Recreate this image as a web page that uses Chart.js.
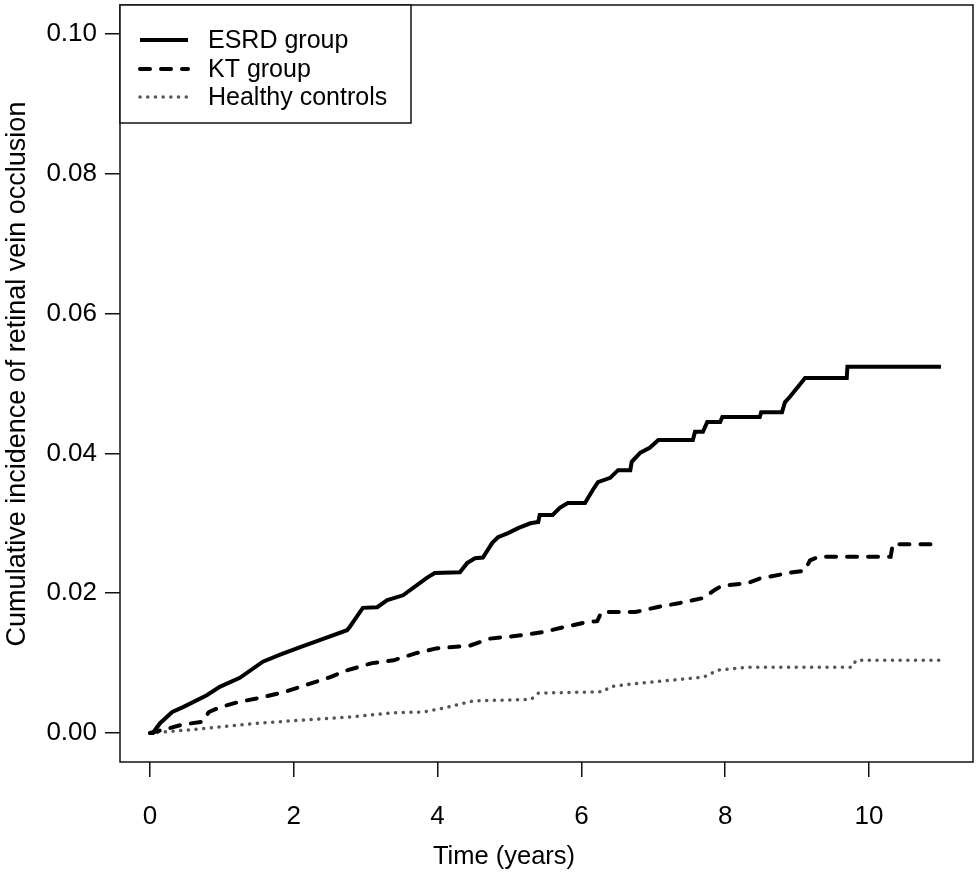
<!DOCTYPE html>
<html>
<head>
<meta charset="utf-8">
<script src="https://cdn.jsdelivr.net/npm/chart.js@4.4.1/dist/chart.umd.min.js"></script>
<style>
  body { margin: 0; background: #fff; }
</style>
</head>
<body>
<canvas id="chart" width="979" height="876"></canvas>
<script>
// values (time in years, cumulative incidence)
const esrdTime = [0, 0.04, 0.14, 0.31, 0.46, 0.79, 0.97, 1.25, 1.57, 1.81, 2.09, 2.36, 2.74, 2.78, 2.96, 3.16, 3.30, 3.52, 3.76, 3.85, 3.96, 4.31, 4.41, 4.52, 4.63, 4.76, 4.84, 4.98, 5.12, 5.29, 5.40, 5.42, 5.60, 5.70, 5.81, 6.05, 6.16, 6.23, 6.40, 6.51, 6.68, 6.70, 6.82, 6.95, 7.07, 7.55, 7.58, 7.69, 7.75, 7.93, 7.96, 8.48, 8.50, 8.79, 8.83, 8.90, 9.01, 9.11, 9.69, 9.70, 11.0];
const esrdInc = [0, 0, 0.0014, 0.0030, 0.0037, 0.0054, 0.0066, 0.0079, 0.0102, 0.0112, 0.0123, 0.0133, 0.0147, 0.0152, 0.0179, 0.0180, 0.0190, 0.0197, 0.0215, 0.0222, 0.0229, 0.0230, 0.0243, 0.0250, 0.0251, 0.0272, 0.0280, 0.0286, 0.0293, 0.0300, 0.0302, 0.0312, 0.0312, 0.0322, 0.0329, 0.0329, 0.0348, 0.0359, 0.0365, 0.0376, 0.0376, 0.0388, 0.0401, 0.0408, 0.0419, 0.0419, 0.0431, 0.0431, 0.0445, 0.0445, 0.0452, 0.0452, 0.0459, 0.0459, 0.0473, 0.0481, 0.0495, 0.0508, 0.0508, 0.0524, 0.0524];

const ktTime = [0, 0.20, 0.45, 0.72, 0.82, 0.98, 1.22, 1.56, 1.88, 2.18, 2.48, 2.75, 3.09, 3.39, 3.69, 3.98, 4.10, 4.45, 4.73, 5.10, 5.45, 5.74, 6.09, 6.22, 6.28, 6.75, 7.05, 7.37, 7.69, 7.86, 7.96, 8.30, 8.48, 8.94, 9.10, 9.18, 9.30, 10.30, 10.33, 10.92];
const ktInc = [0, 0.0005, 0.0012, 0.0016, 0.0030, 0.0037, 0.0044, 0.0051, 0.0059, 0.0069, 0.0079, 0.0090, 0.0100, 0.0104, 0.0114, 0.0121, 0.0122, 0.0125, 0.0135, 0.0139, 0.0144, 0.0151, 0.0159, 0.0160, 0.0173, 0.0173, 0.0180, 0.0186, 0.0193, 0.0205, 0.0211, 0.0214, 0.0221, 0.0230, 0.0232, 0.0247, 0.0252, 0.0252, 0.0270, 0.0270];

const hcTime = [0, 0.5, 1.0, 1.5, 2.2, 2.8, 3.4, 3.8, 4.1, 4.5, 5.3, 5.4, 6.3, 6.4, 6.6, 7.7, 7.9, 8.3, 9.76, 9.82, 11.0];
const hcInc = [0, 0.0004, 0.0009, 0.0014, 0.0019, 0.0023, 0.0029, 0.0030, 0.0036, 0.0046, 0.0048, 0.0057, 0.0059, 0.0066, 0.0069, 0.0080, 0.0090, 0.0094, 0.0094, 0.0104, 0.0104];

const xTicks = [0, 2, 4, 6, 8, 10];
const yTicks = [0, 0.02, 0.04, 0.06, 0.08, 0.10];
const seriesNames = ['ESRD group', 'KT group', 'Healthy controls'];
const xTitle = 'Time (years)';
const yTitle = 'Cumulative incidence of retinal vein occlusion';

const toPoints = (xs, ys) => xs.map((x, i) => ({ x: x, y: ys[i] }));
const FONT = 'Liberation Sans, Arial, Helvetica, sans-serif';

// keep the plot box where it is in the figure, whatever the label sizes
const noPad = (scale) => {
  scale.paddingTop = 0;
  scale.paddingBottom = 0;
  scale.paddingLeft = 0;
  scale.paddingRight = 0;
};

// box round the plot, the legend in the top-left corner, and the axis titles
// (the titles sit where R put them, a little off the plot centre)
const boxAndLegend = {
  id: 'boxAndLegend',
  afterDraw(chart) {
    const ctx = chart.ctx;
    const ca = chart.chartArea;
    ctx.save();
    ctx.strokeStyle = '#111';
    ctx.lineWidth = 1.5;
    ctx.strokeRect(ca.left, ca.top, ca.right - ca.left, ca.bottom - ca.top);

    const lx = ca.left, ly = ca.top;
    ctx.fillStyle = '#fff';
    ctx.fillRect(lx, ly, 291, 118);
    ctx.strokeRect(lx, ly, 291, 118);

    const rows = [35, 64, 92];
    chart.data.datasets.forEach((ds, i) => {
      const y = ly + rows[i];
      ctx.beginPath();
      ctx.strokeStyle = ds.borderColor;
      ctx.lineWidth = ds.borderWidth;
      ctx.lineCap = ds.borderCapStyle || 'butt';
      ctx.setLineDash(ds.borderDash || []);
      ctx.moveTo(lx + 20, y);
      ctx.lineTo(lx + 68, y);
      ctx.stroke();
      ctx.setLineDash([]);
      ctx.fillStyle = '#000';
      ctx.font = '25px ' + FONT;
      ctx.textBaseline = 'middle';
      ctx.textAlign = 'left';
      ctx.fillText(ds.label, lx + 88, y + 1);
    });

    ctx.fillStyle = '#000';
    ctx.textAlign = 'center';
    ctx.textBaseline = 'middle';
    ctx.font = '25.5px ' + FONT;
    ctx.fillText(xTitle, 504, 857);

    ctx.translate(18, 374);
    ctx.rotate(-Math.PI / 2);
    ctx.font = '27px ' + FONT;
    ctx.fillText(yTitle, 0, 0);
    ctx.restore();
  }
};

new Chart(document.getElementById('chart'), {
  type: 'scatter',
  data: {
    datasets: [
      {
        label: seriesNames[0],
        data: toPoints(esrdTime, esrdInc),
        showLine: true,
        borderColor: '#000',
        borderWidth: 4,
        borderCapStyle: 'butt',
        pointRadius: 0
      },
      {
        label: seriesNames[1],
        data: toPoints(ktTime, ktInc),
        showLine: true,
        borderColor: '#000',
        borderWidth: 4,
        borderDash: [10, 11],
        borderCapStyle: 'round',
        pointRadius: 0
      },
      {
        label: seriesNames[2],
        data: toPoints(hcTime, hcInc),
        showLine: true,
        borderColor: '#555',
        borderWidth: 3.5,
        borderDash: [0.1, 7.6],
        borderCapStyle: 'round',
        pointRadius: 0
      }
    ]
  },
  options: {
    responsive: false,
    animation: false,
    layout: { padding: { top: 5, right: 6, left: 0, bottom: 0 } },
    plugins: {
      legend: { display: false },
      tooltip: { enabled: false }
    },
    scales: {
      x: {
        type: 'linear',
        min: -0.417,
        max: 11.446,
        afterFit: (scale) => { scale.height = 114; noPad(scale); },
        afterBuildTicks: (scale) => { scale.ticks = xTicks.map(v => ({ value: v })); },
        border: { display: false },
        grid: {
          drawOnChartArea: false,
          drawTicks: true,
          tickLength: 15,
          color: '#111',
          lineWidth: 1.5
        },
        ticks: {
          color: '#000',
          font: { family: FONT, size: 26 },
          padding: 24,
          maxRotation: 0,
          callback: (v) => String(v)
        },
        title: { display: false }
      },
      y: {
        type: 'linear',
        min: -0.00415,
        max: 0.10415,
        afterFit: (scale) => { scale.width = 120; noPad(scale); },
        afterBuildTicks: (scale) => { scale.ticks = yTicks.map(v => ({ value: v })); },
        border: { display: false },
        grid: {
          drawOnChartArea: false,
          drawTicks: true,
          tickLength: 15,
          color: '#111',
          lineWidth: 1.5
        },
        ticks: {
          color: '#000',
          font: { family: FONT, size: 26 },
          padding: 8,
          callback: (v) => v.toFixed(2)
        },
        title: { display: false }
      }
    }
  },
  plugins: [boxAndLegend]
});
</script>
</body>
</html>
